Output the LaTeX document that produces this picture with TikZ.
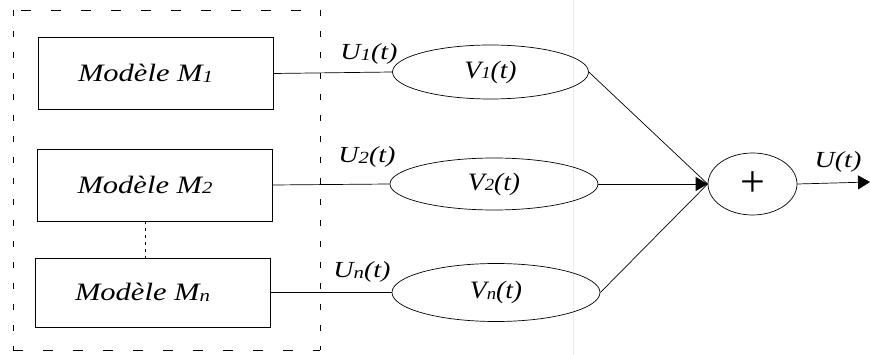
\documentclass[tikz,border=0pt]{standalone}
\usepackage{fontspec}
\setmainfont{Liberation Serif}
\newfontfamily\wfont[FakeStretch=1.22]{Liberation Serif}
\newfontfamily\vfont[FakeStretch=1.1]{Liberation Serif}
\usetikzlibrary{shapes.geometric,arrows.meta}
\newcommand{\sbx}[1]{\raisebox{-0.5pt}{\fontsize{17}{17}\selectfont #1}}
\begin{document}
\begin{tikzpicture}[x=1pt,y=-1pt,
  model/.style={draw,line width=0.8pt,minimum width=235pt,minimum height=72pt,inner sep=0pt,font=\wfont\fontsize{25}{25}\selectfont\itshape},
  filt/.style={draw,ellipse,line width=0.7pt,minimum width=196pt,minimum height=54pt,inner sep=0pt,font=\vfont\fontsize{25}{25}\selectfont\itshape},
  conn/.style={line width=0.7pt},
  lab/.style={font=\wfont\fontsize{23}{23}\selectfont\itshape,inner sep=0pt},
  tip/.style={-{Triangle[length=12pt,width=14pt]}}]
\useasboundingbox (0,0) rectangle (870,355);
\draw[black!7,line width=0.8pt] (573,0) -- (573,355);
\coordinate (bl) at (13,350);
\coordinate (tl) at (13,10);
\coordinate (tr) at (320,10);
\coordinate (br) at (320,350);
\draw[dash pattern=on 10pt off 20pt,line width=0.8pt] (bl) -- (br);
\draw[dash pattern=on 10pt off 20pt,dash phase=-8pt,line width=0.8pt] (tl) -- (tr);
\draw[dash pattern=on 6pt off 15pt,line width=0.8pt] (tl) -- (bl);
\draw[dash pattern=on 6pt off 15pt,line width=0.8pt] (tr) -- (br);
\node[model] (m1) at (155.5,73.5) {\hspace*{-20pt}Modèle M\sbx{1}};
\node[model] (m2) at (155,185) {\hspace*{-20pt}Modèle M\sbx{2}};
\node[model,minimum height=69pt] (mn) at (152.5,292.5) {\hspace*{-20pt}Modèle M\sbx{n}};
\draw[conn,dash pattern=on 3pt off 4pt] (m2.south -| 145,0) -- (mn.north -| 145,0);
\node[filt] (v1) at (490.5,72) {V\sbx{1}(t)};
\node[filt,minimum width=208pt,minimum height=52pt] (v2) at (494,184) {V\sbx{2}(t)};
\node[filt,minimum width=208pt,minimum height=58pt] (vn) at (496,292.5) {V\sbx{n}(t)};
\node[draw,ellipse,line width=0.7pt,minimum width=89pt,minimum height=62pt,inner sep=0pt,font=\fontsize{44}{44}\selectfont] (sum) at (752.5,184) {+};
\coordinate (out) at (870,182);
\draw[conn] (m1.east) -- (v1.west);
\draw[conn] (m2.east) -- (v2.west);
\draw[conn] (mn.east) -- (vn.west);
\draw[conn] (v1.east) -- (sum.west);
\draw[conn,tip] (v2.east) -- (sum.west);
\draw[conn] (vn.east) -- (sum.west);
\draw[conn,tip] (sum.east) -- (out);
\node[lab] (u1) at (369,54) {U\sbx{1}(t)};
\node[lab] (u2) at (367,157) {U\sbx{2}(t)};
\node[lab] (un) at (362,272) {U\sbx{n}(t)};
\node[lab] (u) at (838,162) {U(t)};
\end{tikzpicture}
\end{document}
